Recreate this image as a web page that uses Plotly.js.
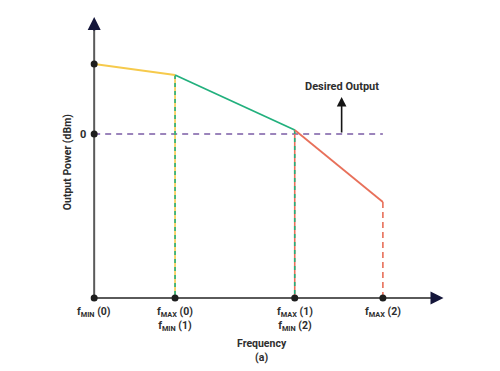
<!DOCTYPE html>
<html>
<head>
<meta charset="utf-8">
<script src="https://cdn.plot.ly/plotly-3.0.1.min.js"></script>
<style>html,body{margin:0;padding:0;background:#fff;}#chart{width:500px;height:371px;}</style>
</head>
<body>
<div id="chart"></div>
<script>
// ---- data ----
const freqPos = [0, 1, 2.48, 3.57];
const freqLabels = [
  '<b>f<sub>MIN</sub> (0)</b>',
  '<b>f<sub>MAX</sub> (0)</b><br><b>f<sub>MIN</sub> (1)</b>',
  '<b>f<sub>MAX</sub> (1)</b><br><b>f<sub>MIN</sub> (2)</b>',
  '<b>f<sub>MAX</sub> (2)</b>'
];
const powerDbm = [7.0, 5.9, 0.4, -6.8];
const desiredLevel = 0;
const desiredArrowX = 3.06;
const desiredArrowTop = 3.7;
const yTickVals = [0];
const yTickText = ['0'];
const floorY = -16.4;
const xAxisEnd = 4.32;
const yAxisEnd = 11.7;

// ---- styles ----
const cYellow = '#F6CA4C', cGreen = '#22B07D', cRed = '#E8705A';
const cPurple = '#7B5CA5', cAxis = '#5a5a5a', cHead = '#14163a', cText = '#2e2e2e';
const FONT = 'Roboto, Arial, sans-serif';

const traces = [];
// axes lines
traces.push({x:[0, xAxisEnd-0.1], y:[floorY, floorY], mode:'lines', line:{color:cAxis, width:2}, hoverinfo:'skip'});
traces.push({x:[0, 0], y:[floorY, yAxisEnd-1], mode:'lines', line:{color:cAxis, width:2}, hoverinfo:'skip'});
// desired output zero line
traces.push({x:[freqPos[0], freqPos[3]], y:[desiredLevel, desiredLevel], mode:'lines', line:{color:cPurple, width:1.5, dash:'6px,5px'}, hoverinfo:'skip'});
// vertical drop lines
traces.push({x:[freqPos[1], freqPos[1]], y:[powerDbm[1], floorY], mode:'lines', line:{color:cYellow, width:1.6}, hoverinfo:'skip'});
traces.push({x:[freqPos[1], freqPos[1]], y:[powerDbm[1], floorY], mode:'lines', line:{color:cGreen, width:1.6, dash:'4px,4px'}, hoverinfo:'skip'});
traces.push({x:[freqPos[2], freqPos[2]], y:[powerDbm[2], floorY], mode:'lines', line:{color:cRed, width:1.6}, hoverinfo:'skip'});
traces.push({x:[freqPos[2], freqPos[2]], y:[powerDbm[2], floorY], mode:'lines', line:{color:cGreen, width:1.6, dash:'4px,4px'}, hoverinfo:'skip'});
traces.push({x:[freqPos[3], freqPos[3]], y:[powerDbm[3], floorY], mode:'lines', line:{color:cRed, width:1.6, dash:'6px,4px'}, hoverinfo:'skip'});
// power segments
const segColors = [cYellow, cGreen, cRed];
for (let i = 0; i < 3; i++) {
  traces.push({x:[freqPos[i], freqPos[i+1]], y:[powerDbm[i], powerDbm[i+1]], mode:'lines', line:{color:segColors[i], width:1.8}, hoverinfo:'skip'});
}
// dots
traces.push({x:freqPos, y:freqPos.map(()=>floorY), mode:'markers', marker:{color:'#1e1e1e', size:7}, cliponaxis:false, hoverinfo:'skip'});
traces.push({x:[0, 0], y:[powerDbm[0], desiredLevel], mode:'markers', marker:{color:'#1e1e1e', size:7}, cliponaxis:false, hoverinfo:'skip'});

const annotations = [];
freqPos.forEach((fx, i) => {
  annotations.push({x:fx, y:floorY, xref:'x', yref:'y', text:freqLabels[i], showarrow:false,
    xanchor:'center', yanchor:'top', yshift:-5, align:'center', font:{family:FONT, size:10.5, color:cText}});
});
yTickVals.forEach((v, i) => {
  annotations.push({x:0, y:v, xref:'x', yref:'y', text:'<b>'+yTickText[i]+'</b>', showarrow:false,
    xanchor:'right', xshift:-6, font:{family:FONT, size:11, color:cText}});
});
// axis arrowheads
annotations.push({x:xAxisEnd, y:floorY, ax:xAxisEnd-0.15, ay:floorY, xref:'x', yref:'y', axref:'x', ayref:'y',
  text:'', showarrow:true, arrowhead:2, arrowsize:1.3, arrowwidth:2, arrowcolor:cHead});
annotations.push({x:0, y:yAxisEnd, ax:0, ay:yAxisEnd-1.5, xref:'x', yref:'y', axref:'x', ayref:'y',
  text:'', showarrow:true, arrowhead:2, arrowsize:1.3, arrowwidth:2, arrowcolor:cHead});
// desired output arrow
annotations.push({x:desiredArrowX, y:desiredArrowTop, ax:desiredArrowX, ay:desiredLevel, xref:'x', yref:'y', axref:'x', ayref:'y',
  text:'', showarrow:true, arrowhead:2, arrowsize:1.2, arrowwidth:1.6, arrowcolor:'#151515'});
annotations.push({x:desiredArrowX, y:desiredArrowTop, xref:'x', yref:'y', text:'<b>Desired Output</b>', showarrow:false,
  xanchor:'center', yanchor:'bottom', yshift:2, font:{family:FONT, size:11, color:cText}});
// axis titles (paper coords so they are not hidden off-axis)
annotations.push({x:-0.029, y:0.49, xref:'paper', yref:'paper', xanchor:'center', yanchor:'middle',
  text:'<b>Output Power (dBm)</b>', showarrow:false, textangle:-90,
  font:{family:FONT, size:10.5, color:cText}});
annotations.push({x:0.494, y:-0.085, xref:'paper', yref:'paper', xanchor:'center', yanchor:'top',
  text:'<b>Frequency</b><br><b>(a)</b>', showarrow:false,
  font:{family:FONT, size:10.5, color:cText}});

const layout = {
  width:500, height:371,
  margin:{l:77.8, r:49.6, t:9, b:62, pad:0},
  paper_bgcolor:'#fff', plot_bgcolor:'#fff',
  showlegend:false,
  xaxis:{range:[-0.2, 4.4], showgrid:false, zeroline:false, showline:false, showticklabels:false, ticks:'', fixedrange:true},
  yaxis:{range:[-17.5, 12.5], showgrid:false, zeroline:false, showline:false, showticklabels:false, ticks:'', fixedrange:true},
  annotations:annotations
};
Plotly.newPlot('chart', traces, layout, {displayModeBar:false, staticPlot:true});
</script>
</body>
</html>
